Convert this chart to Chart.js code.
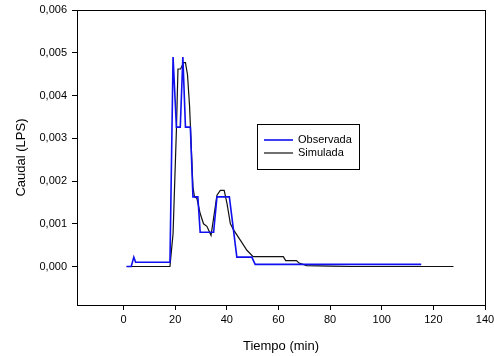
<!DOCTYPE html>
<html>
<head>
<meta charset="utf-8">
<script src="https://cdn.jsdelivr.net/npm/chart.js@4/dist/chart.umd.min.js"></script>
<style>
  html, body { margin: 0; padding: 0; background: #fff; }
  #wrap { width: 494px; height: 356px; }
</style>
</head>
<body>
<div id="wrap"><canvas id="hydroChart"></canvas></div>
<script>
// data
const seriesNames = ['Observada', 'Simulada'];
const tObs = [1.2, 3.0, 4.0, 4.7, 18.0, 19.2, 20.5, 22.0, 23.0, 24.0, 25.9, 26.9, 28.8, 29.7, 34.9, 36.2, 41.0, 43.9, 49.7, 51.0, 115.3];
const qObs = [0, 0, 0.00022, 0.0001, 0.0001, 0.0049, 0.00326, 0.00326, 0.0049, 0.00326, 0.00326, 0.00163, 0.00163, 0.0008, 0.0008, 0.00163, 0.00163, 0.00022, 0.00022, 0.00005, 0.00005];
const tSim = [1.2, 18.0, 19.2, 20.5, 21.1, 22.1, 23.3, 24.0, 24.8, 25.6, 26.9, 27.5, 28.4, 29.7, 31.0, 32.3, 33.9, 34.9, 36.2, 37.5, 39.0, 40.1, 41.4, 42.7, 45.3, 47.8, 50.2, 61.9, 62.8, 67.0, 68.0, 70.9, 80.0, 88.0, 127.8];
const qSim = [0, 0, 0.00077, 0.0032, 0.00462, 0.00462, 0.00477, 0.00477, 0.00448, 0.00374, 0.00186, 0.00163, 0.0016, 0.00124, 0.001, 0.00094, 0.00073, 0.00113, 0.00167, 0.00178, 0.00178, 0.00147, 0.001, 0.00085, 0.00061, 0.00038, 0.00023, 0.00023, 0.00014, 0.00014, 0.00008, 0.00002, 0.00001, 0, 0];
const xTicks = [0, 20, 40, 60, 80, 100, 120, 140];
const yTicks = [0, 0.001, 0.002, 0.003, 0.004, 0.005, 0.006];

const toPoints = (xs, ys) => xs.map((x, i) => ({ x: x, y: ys[i] }));

// frame around the plot + legend box inside it
const framePlugin = {
  id: 'frame',
  afterDatasetsDraw(chart) {
    const { ctx, chartArea: a } = chart;
    ctx.save();
    ctx.strokeStyle = '#000';
    ctx.lineWidth = 1;
    ctx.strokeRect(a.left + 0.5, a.top + 0.5, a.right - a.left, a.bottom - a.top);

    // legend
    const lx = 257, ly = 124, lw = 102, lh = 45;
    ctx.fillStyle = '#fff';
    ctx.fillRect(lx, ly, lw, lh);
    ctx.strokeRect(lx + 0.5, ly + 0.5, lw, lh);
    ctx.font = '11px "Liberation Sans", Arial, sans-serif';
    ctx.textBaseline = 'middle';
    chart.data.datasets.forEach((ds, i) => {
      const y = ly + 16 + i * 13;
      ctx.strokeStyle = ds.borderColor;
      ctx.lineWidth = ds.borderWidth;
      ctx.beginPath();
      ctx.moveTo(lx + 7, y);
      ctx.lineTo(lx + 36, y);
      ctx.stroke();
      ctx.fillStyle = '#000';
      ctx.fillText(ds.label, lx + 41, y);
    });
    ctx.restore();
  }
};

const font = { family: '"Liberation Sans", Arial, sans-serif', size: 11 };

new Chart(document.getElementById('hydroChart'), {
  type: 'scatter',
  data: {
    datasets: [
      { label: seriesNames[0], data: toPoints(tObs, qObs), showLine: true, borderColor: '#1010ee', borderWidth: 1.6, pointRadius: 0, tension: 0 },
      { label: seriesNames[1], data: toPoints(tSim, qSim), showLine: true, borderColor: '#111', borderWidth: 1.2, pointRadius: 0, tension: 0 }
    ]
  },
  options: {
    responsive: true,
    maintainAspectRatio: false,
    animation: false,
    layout: { padding: { left: 10, right: 9, top: 10, bottom: 0 } },
    plugins: { legend: { display: false }, tooltip: { enabled: false } },
    scales: {
      x: {
        type: 'linear',
        min: -18,
        max: 140,
        afterBuildTicks: s => { s.ticks = xTicks.map(v => ({ value: v })); },
        afterFit: s => { s.height = 51; s.paddingRight = 0; s.paddingLeft = 0; },
        grid: { display: true, drawOnChartArea: false, drawTicks: true, tickLength: 5, color: '#000' },
        border: { display: true, color: '#000' },
        ticks: { color: '#000', font: font, padding: 3, maxRotation: 0 },
        title: { display: true, text: 'Tiempo (min)', color: '#000', font: { family: font.family, size: 13 }, padding: { top: 4, bottom: 2 } }
      },
      y: {
        type: 'linear',
        min: -0.0009,
        max: 0.006,
        afterBuildTicks: s => { s.ticks = yTicks.map(v => ({ value: v })); },
        afterFit: s => { s.width = 67; s.paddingTop = 0; s.paddingBottom = 0; },
        grid: { display: true, drawOnChartArea: false, drawTicks: true, tickLength: 5, color: '#000' },
        border: { display: true, color: '#000' },
        ticks: { color: '#000', font: font, padding: 5, callback: v => v.toFixed(3).replace('.', ',') },
        title: { display: true, text: 'Caudal (LPS)', color: '#000', font: { family: font.family, size: 13 }, padding: { top: 4, bottom: 4 } }
      }
    }
  },
  plugins: [framePlugin]
});
</script>
</body>
</html>
